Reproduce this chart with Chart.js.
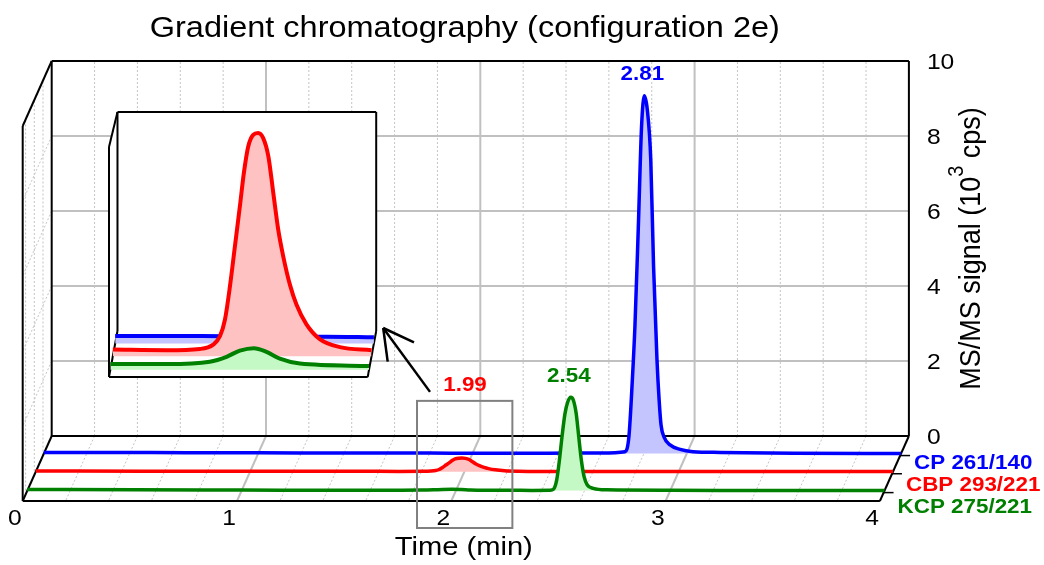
<!DOCTYPE html>
<html>
<head>
<meta charset="utf-8">
<title>Gradient chromatography</title>
<script src="https://cdn.jsdelivr.net/npm/chart.js@4.4.1/dist/chart.umd.min.js"></script>
<style>
  body { margin: 0; background: #fff; }
  #wrap { position: relative; width: 1044px; height: 565px; }
  #wrap canvas { position: absolute; left: 0; top: 0; }
</style>
</head>
<body>
<div id="wrap">
  <canvas id="main" width="1044" height="565"></canvas>
  <canvas id="inset" width="1044" height="565"></canvas>
</div>
<script>
// data (time in min, signal in 10^3 cps)
const cpTime = [0, 0.5, 1.0, 1.52, 1.8, 2.0, 2.2, 2.355, 2.6, 2.712, 2.730, 2.746, 2.758, 2.774, 2.789, 2.802, 2.816, 2.832, 2.845, 2.861, 2.871, 2.88, 2.894, 2.922, 2.969, 3.029, 3.155, 3.5, 4.0];
const cpSignal = [0.03, 0.025, 0.02, 0.012, 0.012, 0.011, 0.011, 0.010, 0.015, 0.05, 0.45, 1.96, 3.38, 6.05, 8.72, 9.54, 9.16, 7.83, 5.0, 2.50, 1.43, 0.76, 0.44, 0.23, 0.11, 0.05, 0.03, 0.01, 0.0];

const cbpTime = [0, 0.5, 1.0, 1.52, 1.694, 1.801, 1.844, 1.866, 1.882, 1.898, 1.914, 1.930, 1.943, 1.957, 1.973, 1.989, 2.005, 2.022, 2.038, 2.054, 2.070, 2.092, 2.113, 2.145, 2.188, 2.253, 2.355, 3.0, 3.5, 4.0];
const cbpSignal = [0.02, 0.015, 0.012, 0.011, 0.010, 0.012, 0.019, 0.033, 0.060, 0.114, 0.179, 0.244, 0.299, 0.342, 0.361, 0.364, 0.356, 0.326, 0.266, 0.206, 0.163, 0.116, 0.084, 0.052, 0.028, 0.015, 0.010, 0.008, 0.005, 0.005];

const kcpTime = [0, 0.5, 1.0, 1.52, 1.702, 1.841, 1.895, 1.938, 1.983, 2.024, 2.067, 2.132, 2.355, 2.44, 2.455, 2.470, 2.483, 2.495, 2.509, 2.522, 2.536, 2.548, 2.561, 2.573, 2.585, 2.598, 2.613, 2.641, 2.704, 3.0, 3.5, 4.0];
const kcpSignal = [0.03, 0.02, 0.015, 0.009, 0.009, 0.013, 0.021, 0.031, 0.035, 0.029, 0.018, 0.010, 0.006, 0.01, 0.035, 0.28, 0.82, 1.44, 2.06, 2.37, 2.49, 2.41, 2.06, 1.44, 0.82, 0.37, 0.15, 0.06, 0.02, 0.01, 0.0, 0.0];

const seriesNames = ["CP 261/140", "CBP 293/221", "KCP 275/221"];
const peakLabels = ["2.81", "1.99", "2.54"];
const xTicks = [0, 1, 2, 3, 4];
const yTicks = [0, 2, 4, 6, 8, 10];
const titleText = "Gradient chromatography (configuration 2e)";
const xTitle = "Time (min)";

// layout / look
const FONT = '"Liberation Sans", Arial, Helvetica, sans-serif';
const SX = 1.12;                       // text is a bit wide in the original
const colors = ["#0000ff", "#ff0000", "#008000"];
const fills = ["#c4c4ff", "#ffc2c2", "#c4f8c4"];
const depths = [0.73, 0.45, 0.16];     // position of each trace on the floor (0 = front, 1 = back)

// main box: depth shift in axis units
const T_MAX = 4, V_MAX = 10;
const DX = 0.1353, DY = 1.733;

// zoomed view
const T0 = 1.52, T1 = 2.355, VTOP_I = 0.357;
const DXI = 0.0274, DYI = 0.0749;
const INSET = { left: 109, top: 112, right: 376.2, bottom: 377 };
const ZOOM_T = [1.84, 2.285], ZOOM_V = [-0.72, 2.67];

function proj(chart, t, v, d, dx, dy) {
  return {
    x: chart.scales.x.getPixelForValue(t + d * dx),
    y: chart.scales.y.getPixelForValue(v + d * dy),
  };
}

function line(ctx, a, b) {
  ctx.beginPath();
  ctx.moveTo(a.x, a.y);
  ctx.lineTo(b.x, b.y);
  ctx.stroke();
}

function text(ctx, str, x, y, font, color, align, base) {
  ctx.save();
  ctx.translate(x, y);
  ctx.scale(SX, 1);
  ctx.font = font;
  ctx.fillStyle = color;
  ctx.textAlign = align || "center";
  ctx.textBaseline = base || "middle";
  ctx.fillText(str, 0, 0);
  ctx.restore();
}

const times = [cpTime, cbpTime, kcpTime];
const signals = [cpSignal, cbpSignal, kcpSignal];

function makeDatasets(dx, dy, tMin, tMax, width) {
  return seriesNames.map((name, i) => {
    const pts = [];
    times[i].forEach((t, j) => {
      if (t >= tMin - 1e-9 && t <= tMax + 1e-9) {
        pts.push({ x: t + depths[i] * dx, y: signals[i][j] + depths[i] * dy });
      }
    });
    return {
      label: name,
      data: pts,
      borderColor: colors[i],
      backgroundColor: fills[i],
      borderWidth: width,
      pointRadius: 0,
      fill: { value: depths[i] * dy },
      cubicInterpolationMode: "monotone",
      order: 3 - i,
    };
  });
}

// grid, box and texts of the main chart
const box3d = {
  id: "box3d",
  beforeDatasetsDraw(chart) {
    const ctx = chart.ctx;
    const p = (t, v, d) => proj(chart, t, v, d, DX, DY);
    ctx.save();
    // dotted minor grid
    ctx.lineWidth = 1;
    ctx.strokeStyle = "#c4c4c4";
    ctx.setLineDash([2, 2]);
    for (let k = 1; k < 20; k++) {
      if (k % 5 === 0) continue;
      const t = k * 0.2;
      line(ctx, p(t, 0, 1), p(t, V_MAX, 1));
      line(ctx, p(t, 0, 1), p(t, 0, 0));
    }
    yTicks.slice(1, -1).forEach(v => line(ctx, p(0, v, 1), p(0, v, 0)));
    [0.1, 0.4, 0.7].forEach(d => line(ctx, p(0, 0, d), p(0, V_MAX, d)));
    ctx.setLineDash([]);
    // major grid
    ctx.lineWidth = 2;
    ctx.strokeStyle = "#c0c0c0";
    xTicks.slice(1, -1).forEach(t => {
      line(ctx, p(t, 0, 1), p(t, V_MAX, 1));
      line(ctx, p(t, 0, 1), p(t, 0, 0));
    });
    yTicks.slice(1, -1).forEach(v => line(ctx, p(0, v, 1), p(T_MAX, v, 1)));
    // frame
    ctx.strokeStyle = "#000";
    line(ctx, p(0, V_MAX, 1), p(T_MAX, V_MAX, 1));
    line(ctx, p(T_MAX, V_MAX, 1), p(T_MAX, 0, 1));
    line(ctx, p(0, V_MAX, 1), p(0, 0, 1));
    line(ctx, p(0, 0, 1), p(T_MAX, 0, 1));
    line(ctx, p(0, V_MAX, 1), p(0, V_MAX, 0));
    line(ctx, p(0, V_MAX, 0), p(0, 0, 0));
    line(ctx, p(0, 0, 1), p(0, 0, 0));
    line(ctx, p(0, 0, 0), p(T_MAX, 0, 0));
    line(ctx, p(T_MAX, 0, 1), p(T_MAX, 0, 0));
    ctx.restore();
  },
  afterDatasetsDraw(chart) {
    const ctx = chart.ctx;
    const area = chart.chartArea;
    const p = (t, v, d) => proj(chart, t, v, d, DX, DY);
    const cx = (area.left + area.right) / 2;
    ctx.save();

    // title and axis texts
    text(ctx, titleText, cx - 1, 37, "29px " + FONT, "#000", "center", "alphabetic");
    xTicks.forEach(t => {
      const q = p(t, 0, -0.27);
      text(ctx, String(t), q.x, q.y, "22px " + FONT, "#000");
    });
    text(ctx, xTitle, cx - 2, 548, "26px " + FONT, "#000");
    yTicks.forEach(v => {
      const q = p(T_MAX, v, 1);
      text(ctx, String(v), q.x + 18, q.y + 2, "22px " + FONT, "#000", "left");
    });

    // y title with superscript
    const top = p(T_MAX, V_MAX, 1), bot = p(T_MAX, 0, 1);
    ctx.save();
    ctx.translate(980, (top.y + bot.y) / 2);
    ctx.rotate(-Math.PI / 2);
    ctx.scale(1, SX);
    ctx.fillStyle = "#000";
    ctx.textBaseline = "alphabetic";
    ctx.textAlign = "left";
    const big = "27px " + FONT, small = "20px " + FONT;
    const parts = [["MS/MS signal (10", big, 0], ["3", small, -15], [" cps)", big, 0]];
    let total = 0;
    parts.forEach(pt => { ctx.font = pt[1]; total += ctx.measureText(pt[0]).width; });
    let x = -total / 2;
    parts.forEach(pt => {
      ctx.font = pt[1];
      ctx.fillText(pt[0], x, pt[2]);
      x += ctx.measureText(pt[0]).width;
    });
    ctx.restore();

    // series names with ticks at the right side of the floor
    ctx.strokeStyle = "#000";
    ctx.lineWidth = 1.5;
    seriesNames.forEach((name, i) => {
      const e = p(T_MAX, 0, depths[i]);
      line(ctx, { x: e.x - 1, y: e.y + 2 }, { x: e.x + 9, y: e.y + 2 });
      text(ctx, name, e.x + 13, e.y + 10 + (depths[0] - depths[i]) * 12,
        "bold 20px " + FONT, colors[i], "left");
    });

    // zoom box
    const b0 = p(ZOOM_T[0], ZOOM_V[1], 0), b1 = p(ZOOM_T[1], ZOOM_V[0], 0);
    ctx.strokeStyle = "#808080";
    ctx.lineWidth = 2;
    ctx.strokeRect(b0.x, b0.y, b1.x - b0.x, b1.y - b0.y);

    // peak labels
    seriesNames.forEach((name, i) => {
      let k = 0;
      signals[i].forEach((v, j) => { if (v > signals[i][k]) k = j; });
      const t = times[i][k];
      const q = p(t, signals[i][k], depths[i]);
      const inBox = t >= ZOOM_T[0] && t <= ZOOM_T[1];
      const y = inBox ? b0.y - 15 : q.y - 21;
      text(ctx, peakLabels[i], q.x + (inBox ? 3 : -2), y, "bold 20px " + FONT, colors[i]);
    });

    // arrow from the box to the zoomed view
    const tail = { x: b0.x + 13, y: b0.y - 9 };
    const tip = { x: INSET.right + 7, y: INSET.bottom - 46 - 3 };
    ctx.strokeStyle = "#000";
    ctx.lineWidth = 2.5;
    line(ctx, tail, tip);
    const ang = Math.atan2(tail.y - tip.y, tail.x - tip.x);
    [-0.5, 0.5].forEach(da => {
      line(ctx, tip, { x: tip.x + 34 * Math.cos(ang + da), y: tip.y + 34 * Math.sin(ang + da) });
    });
    ctx.restore();
  },
};

// frame of the zoomed view
const insetBox = {
  id: "insetBox",
  beforeDatasetsDraw(chart) {
    const ctx = chart.ctx;
    const p = (t, v, d) => proj(chart, t, v, d, DXI, DYI);
    const blt = p(T0, VTOP_I, 1), brt = p(T1, VTOP_I, 1);
    const blb = p(T0, 0, 1), brb = p(T1, 0, 1);
    const flb = p(T0, 0, 0), frb = p(T1, 0, 0);
    const flt = { x: flb.x, y: blt.y + 35 };
    ctx.save();
    ctx.fillStyle = "#fff";
    ctx.beginPath();
    [flt, blt, brt, brb, frb, flb].forEach((q, i) => i ? ctx.lineTo(q.x, q.y) : ctx.moveTo(q.x, q.y));
    ctx.closePath();
    ctx.fill();
    ctx.strokeStyle = "#000";
    ctx.lineWidth = 2;
    line(ctx, blt, brt);
    line(ctx, brt, brb);
    line(ctx, blt, blb);
    line(ctx, blt, flt);
    line(ctx, flt, flb);
    line(ctx, blb, flb);
    line(ctx, flb, frb);
    line(ctx, brb, frb);
    ctx.restore();
  },
};

Chart.defaults.font.family = FONT;

new Chart(document.getElementById("main"), {
  type: "line",
  data: { datasets: makeDatasets(DX, DY, 0, T_MAX, 3.5) },
  options: {
    responsive: false,
    animation: false,
    devicePixelRatio: 1,
    layout: { padding: { left: 22.7, right: 135.1, top: 61, bottom: 64 } },
    scales: {
      x: { type: "linear", min: 0, max: T_MAX + DX, display: false },
      y: { type: "linear", min: 0, max: V_MAX + DY, display: false },
    },
    plugins: { legend: { display: false }, tooltip: { enabled: false }, title: { display: false } },
  },
  plugins: [box3d],
});

new Chart(document.getElementById("inset"), {
  type: "line",
  data: { datasets: makeDatasets(DXI, DYI, T0, T1, 4) },
  options: {
    responsive: false,
    animation: false,
    devicePixelRatio: 1,
    layout: { padding: { left: INSET.left, right: 1044 - INSET.right, top: INSET.top, bottom: 565 - INSET.bottom } },
    scales: {
      x: { type: "linear", min: T0, max: T1 + DXI, display: false },
      y: { type: "linear", min: 0, max: VTOP_I + DYI, display: false },
    },
    plugins: { legend: { display: false }, tooltip: { enabled: false }, title: { display: false } },
  },
  plugins: [insetBox],
});
</script>
</body>
</html>
